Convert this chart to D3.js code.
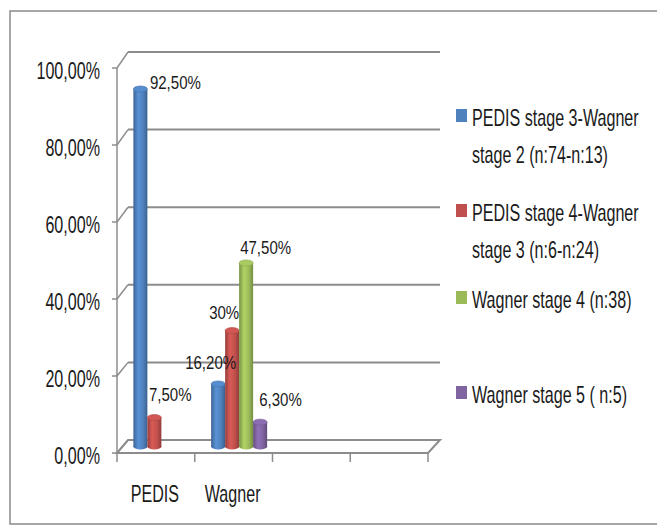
<!DOCTYPE html>
<html>
<head>
<meta charset="utf-8">
<script src="https://cdn.jsdelivr.net/npm/d3@7"></script>
<style>
  html, body { margin: 0; padding: 0; background: #fff; }
  svg text { font-family: "Liberation Sans", Arial, sans-serif; fill: #1a1a1a; }
</style>
</head>
<body>
<svg id="chart" width="657" height="527"></svg>
<script>
// ---- data ----
const categories = ["PEDIS", "Wagner", "", " "];
const seriesNames = [
  ["PEDIS stage 3-Wagner", "stage 2 (n:74-n:13)"],
  ["PEDIS stage 4-Wagner", "stage 3 (n:6-n:24)"],
  ["Wagner stage 4 (n:38)"],
  ["Wagner stage 5 ( n:5)"]
];
const seriesColors = ["#4F81BD", "#C0504D", "#9BBB59", "#8064A2"];
const pedisValues  = [92.5, 7.5, null, null];
const wagnerValues = [16.2, 30, 47.5, 6.3];
const pedisLabels  = ["92,50%", "7,50%", null, null];
const wagnerLabels = ["16,20%", "30%", "47,50%", "6,30%"];
const yTicks = [0, 20, 40, 60, 80, 100];
const yTickLabels = ["0,00%", "20,00%", "40,00%", "60,00%", "80,00%", "100,00%"];

const rows = [
  { cat: "PEDIS", values: pedisValues, labels: pedisLabels },
  { cat: "Wagner", values: wagnerValues, labels: wagnerLabels }
];

// ---- layout ----
const svg = d3.select("#chart");
const depthX = 11;            // 3D depth offset
const frontLeft = 117, frontRight = 428;
const bigFont = 23, bigSx = 0.70;   // condensed, Calibri-like look
const smallFont = 17.5, smallSx = 0.86;

const x = d3.scaleBand().domain(categories).range([frontLeft, frontRight]).paddingInner(0).paddingOuter(0);
const yFront = d3.scaleLinear().domain([0, 100]).range([453, 68]);
const yBack  = d3.scaleLinear().domain([0, 100]).range([440, 52]);
const yMid   = d3.scaleLinear().domain([0, 100]).range([(453 + 440) / 2, (68 + 52) / 2]);
const yLabel = d3.scaleLinear().domain([0, 100]).range([yMid(0) - 24, yMid(100) - 5]);

const inner = d3.scaleBand().domain(d3.range(seriesColors.length)).range([0, 56]);

function placeText(sel, fx, fy, sx) {
  return sel.attr("x", 0).attr("y", 0)
    .attr("transform", (d, i) => `translate(${fx(d, i)},${fy(d, i)}) scale(${sx},1)`);
}

// frame
svg.append("rect").attr("x", 10).attr("y", 11).attr("width", 700).attr("height", 513)
  .attr("fill", "#fff").attr("stroke", "#8a8a8a").attr("stroke-width", 1.5);

const gridColor = "#8c8c8c";
// back wall gridlines
svg.append("g").selectAll("line").data(yTicks.filter(d => d > 0)).join("line")
  .attr("x1", frontLeft + depthX).attr("x2", frontRight + 12)
  .attr("y1", d => yBack(d)).attr("y2", d => yBack(d))
  .attr("stroke", gridColor).attr("stroke-width", 2);
// side wall connectors
svg.append("g").selectAll("line").data(yTicks).join("line")
  .attr("x1", frontLeft).attr("x2", frontLeft + depthX)
  .attr("y1", d => yFront(d)).attr("y2", d => yBack(d))
  .attr("stroke", gridColor).attr("stroke-width", 1.5);
// floor
const floorPath = d3.path();
floorPath.moveTo(frontLeft, yFront(0));
floorPath.lineTo(frontRight, yFront(0));
floorPath.lineTo(frontRight + 12, yBack(0));
floorPath.lineTo(frontLeft + depthX, yBack(0));
floorPath.closePath();
svg.append("path").attr("d", floorPath.toString()).attr("fill", "none")
  .attr("stroke", gridColor).attr("stroke-width", 2);

// y axis
svg.append("line").attr("x1", frontLeft).attr("x2", frontLeft)
  .attr("y1", yFront(0)).attr("y2", yFront(100)).attr("stroke", gridColor).attr("stroke-width", 1.5);
svg.append("g").selectAll("line").data(yTicks).join("line")
  .attr("x1", frontLeft - 5).attr("x2", frontLeft)
  .attr("y1", d => yFront(d)).attr("y2", d => yFront(d))
  .attr("stroke", gridColor).attr("stroke-width", 1.5);
placeText(
  svg.append("g").selectAll("text").data(yTicks).join("text")
    .attr("text-anchor", "end").attr("dominant-baseline", "central")
    .attr("font-size", bigFont)
    .text((d, i) => yTickLabels[i]),
  () => 100, d => yFront(d) + 2.5, bigSx);

// x axis ticks
const xTickPos = categories.map(c => x(c)).concat([frontRight]);
svg.append("g").selectAll("line").data(xTickPos).join("line")
  .attr("x1", d => d).attr("x2", d => d)
  .attr("y1", yFront(0)).attr("y2", yFront(0) + 9)
  .attr("stroke", gridColor).attr("stroke-width", 1.5);
placeText(
  svg.append("g").selectAll("text").data(categories).join("text")
    .attr("text-anchor", "middle").attr("dominant-baseline", "central")
    .attr("font-size", bigFont)
    .text(d => d.trim()),
  d => x(d) + x.bandwidth() / 2 - 1, () => 494, bigSx);

// gradients for cylinders
const defs = svg.append("defs");
seriesColors.forEach((c, i) => {
  const base = d3.color(c);
  const g = defs.append("linearGradient").attr("id", "cyl" + i)
    .attr("x1", "0%").attr("x2", "100%").attr("y1", "0%").attr("y2", "0%");
  g.append("stop").attr("offset", "0%").attr("stop-color", base.darker(0.7));
  g.append("stop").attr("offset", "35%").attr("stop-color", base.brighter(0.35));
  g.append("stop").attr("offset", "70%").attr("stop-color", base);
  g.append("stop").attr("offset", "100%").attr("stop-color", base.darker(0.8));
});

// bars
const barW = inner.bandwidth();
const ry = 3;
const bars = [];
rows.forEach(r => {
  r.values.forEach((v, i) => {
    if (v == null) return;
    const bx = x(r.cat) + (x.bandwidth() - 56) / 2 + depthX / 2 + inner(i);
    bars.push({ cat: r.cat, i, v, label: r.labels[i], bx });
  });
});
const bg = svg.append("g");
bars.forEach(b => {
  const top = yMid(b.v), bottom = yMid(0);
  const g = bg.append("g");
  g.append("ellipse").attr("cx", b.bx + barW / 2).attr("cy", bottom)
    .attr("rx", barW / 2).attr("ry", ry).attr("fill", `url(#cyl${b.i})`);
  g.append("rect").attr("x", b.bx).attr("y", top).attr("width", barW).attr("height", bottom - top)
    .attr("fill", `url(#cyl${b.i})`);
  g.append("ellipse").attr("cx", b.bx + barW / 2).attr("cy", top)
    .attr("rx", barW / 2).attr("ry", ry)
    .attr("fill", d3.color(seriesColors[b.i]).brighter(0.25))
    .attr("stroke", d3.color(seriesColors[b.i]).darker(0.3)).attr("stroke-width", 0.6);
});

// data labels (nudges reproduce Excel's manual label placement)
const nudge = { "PEDIS0": 16.5, "PEDIS1": 1.5, "Wagner0": -26, "Wagner1": -16, "Wagner2": 1, "Wagner3": 6 };
placeText(
  svg.append("g").selectAll("text").data(bars).join("text")
    .attr("dominant-baseline", "central")
    .attr("font-size", smallFont)
    .text(d => d.label),
  d => d.bx + (nudge[d.cat + d.i] || 0), d => yLabel(d.v), smallSx);

// legend
const legendY = [118, 213, 300, 395];
const lg = svg.append("g");
seriesNames.forEach((lines, i) => {
  lg.append("rect").attr("x", 456).attr("y", legendY[i] - 9).attr("width", 11).attr("height", 13)
    .attr("fill", seriesColors[i]);
  lines.forEach((t, j) => {
    lg.append("text")
      .attr("dominant-baseline", "central").attr("font-size", bigFont)
      .attr("transform", `translate(472,${legendY[i] + j * 37}) scale(${bigSx},1)`)
      .text(t);
  });
});
</script>
</body>
</html>
